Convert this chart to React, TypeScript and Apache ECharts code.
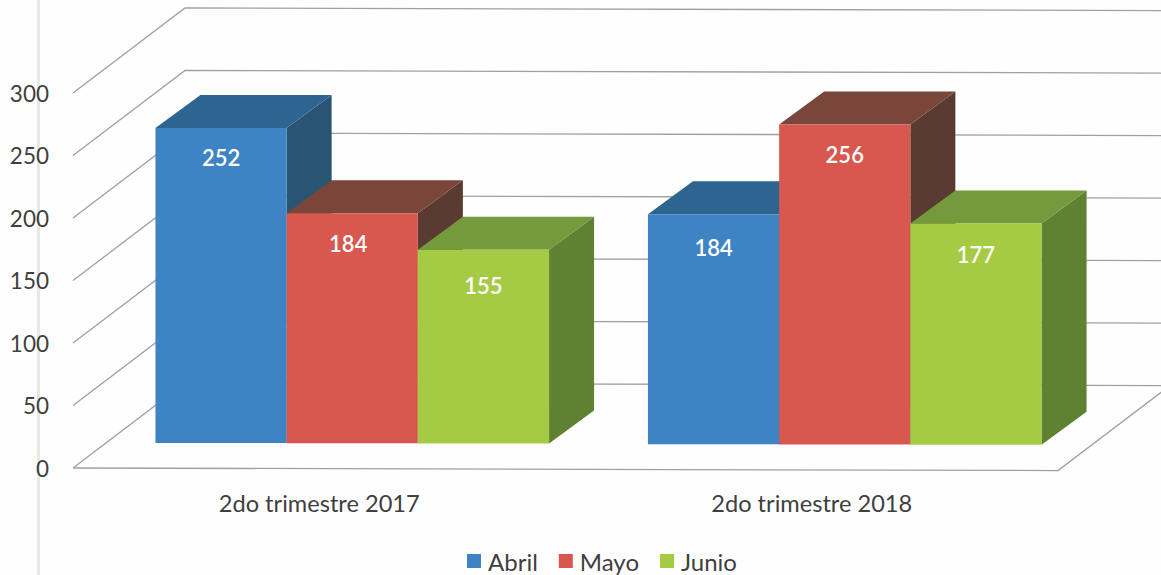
import React, { useEffect, useRef } from "react";
import * as echarts from "echarts";

const categories = ["2do trimestre 2017", "2do trimestre 2018"];
const abril = [252, 184];
const mayo = [184, 256];
const junio = [155, 177];
const tickValues = [0, 50, 100, 150, 200, 250, 300];

const FONT = "Lato";
const TEXT = "#3f3f3f";
const LINE = "#a0a09d";
const WALL_DX = 112;
const WALL_DY = 85;
const RIGHT_DX = 112;
const TILT = 0.0026;
const BAR_DX = 33;
const BAR_DY = 25;
const DEPTH_DX = 45;
const DEPTH_DY = 33;
const BAR_FRACTION = 0.2664;

const palette = [
  { name: "Abril", values: abril, front: "#3e84c4", top: "#2e6590", side: "#2a5572", labelDy: [30, 33], labelDx: [0, 0] },
  { name: "Mayo", values: mayo, front: "#d8574e", top: "#7b463a", side: "#5a3b31", labelDy: [30, 30], labelDx: [-4, 0] },
  { name: "Junio", values: junio, front: "#a5cb45", top: "#749a3b", side: "#5f8232", labelDy: [36, 31], labelDx: [0, 0] },
];

function gridItem(params: any, api: any) {
  const v = api.value(0);
  const cs = params.coordSys;
  const x0 = cs.x;
  const y = api.coord([0, v])[1];
  const bx = x0 + WALL_DX;
  const by = y - WALL_DY;
  const rx = x0 + cs.width + RIGHT_DX;
  const ry = by + TILT * (rx - bx);
  const style = { stroke: LINE, lineWidth: 1.3, fill: "none" };
  const children: any[] = [
    { type: "polyline", shape: { points: [[x0, y], [bx, by], [rx, ry]] }, style },
  ];
  if (v === 0) {
    const fx = x0 + cs.width;
    const fy = y + TILT * cs.width;
    children.push({
      type: "polyline",
      shape: { points: [[x0, y], [fx, fy], [rx, ry]] },
      style,
    });
  }
  return { type: "group", children };
}

function barItem(index: number) {
  return (params: any, api: any) => {
    const p = palette[index];
    const k = api.value(0);
    const band = api.size([1, 0])[0];
    const w = band * BAR_FRACTION;
    const c = api.coord([k, api.value(1)]);
    const l = c[0] + BAR_DX + (index - 1.5) * w;
    const r = l + w;
    const shift = TILT * ((l + r) / 2 - params.coordSys.x) - 0.5;
    const base = api.coord([k, 0])[1] - BAR_DY + shift;
    const top = c[1] - BAR_DY + shift;
    return {
      type: "group",
      children: [
        {
          type: "polygon",
          shape: {
            points: [
              [r, top],
              [r + DEPTH_DX, top - DEPTH_DY],
              [r + DEPTH_DX, base - DEPTH_DY],
              [r, base],
            ],
          },
          style: { fill: p.side },
        },
        {
          type: "polygon",
          shape: {
            points: [
              [l, top],
              [l + DEPTH_DX, top - DEPTH_DY],
              [r + DEPTH_DX, top - DEPTH_DY],
              [r, top],
            ],
          },
          style: { fill: p.top },
        },
        { type: "rect", shape: { x: l, y: top, width: w, height: base - top }, style: { fill: p.front } },
        {
          type: "text",
          style: {
            text: String(api.value(1)),
            x: (l + r) / 2 + p.labelDx[k],
            y: top + p.labelDy[k],
            align: "center",
            verticalAlign: "middle",
            fill: "#ffffff",
            font: `600 22px ${FONT}`,
          },
        },
      ],
    };
  };
}

export default function App() {
  const ref = useRef<HTMLDivElement>(null);
  useEffect(() => {
    const chart = echarts.init(ref.current!, null, { renderer: "svg" });
    chart.setOption({
      animation: false,
      backgroundColor: "#fefefe",
      grid: { left: 73, right: 103, top: 93, bottom: 107 },
      graphic: [
        {
          type: "rect",
          z: -1,
          shape: { x: 37, y: 0, width: 3, height: 575 },
          style: { fill: "#e9e9e3" },
        },
      ],
      legend: {
        left: 467,
        top: 549,
        padding: 0,
        itemWidth: 14,
        itemHeight: 14,
        itemGap: 21,
        icon: "rect",
        data: palette.map((p) => p.name),
        textStyle: { color: TEXT, fontFamily: FONT, fontSize: 24, padding: [0, 0, 0, 2] },
      },
      xAxis: {
        type: "category",
        data: categories,
        axisLine: { show: false },
        axisTick: { show: false },
        axisLabel: { color: TEXT, fontFamily: FONT, fontSize: 23.6, margin: 23 },
      },
      yAxis: {
        type: "value",
        min: 0,
        max: 300,
        interval: 50,
        axisLine: { show: false },
        axisTick: { show: false },
        splitLine: { show: false },
        axisLabel: { color: TEXT, fontFamily: FONT, fontSize: 22.5, margin: 24 },
      },
      series: [
        {
          type: "custom",
          name: "grid",
          silent: true,
          clip: false,
          z: 1,
          data: tickValues.map((v) => [v]),
          encode: { x: -1, y: 0 },
          renderItem: gridItem,
        },
        ...palette.map((p, i) => ({
          type: "custom",
          name: p.name,
          silent: true,
          clip: false,
          z: 2,
          itemStyle: { color: p.front },
          data: p.values.map((v, k) => [k, v]),
          encode: { x: 0, y: 1 },
          renderItem: barItem(i),
        })),
      ],
    });
    return () => chart.dispose();
  }, []);
  return (
    <div
      ref={ref}
      style={{ position: "absolute", left: 0, top: 0, width: 1161, height: 575 }}
    />
  );
}
